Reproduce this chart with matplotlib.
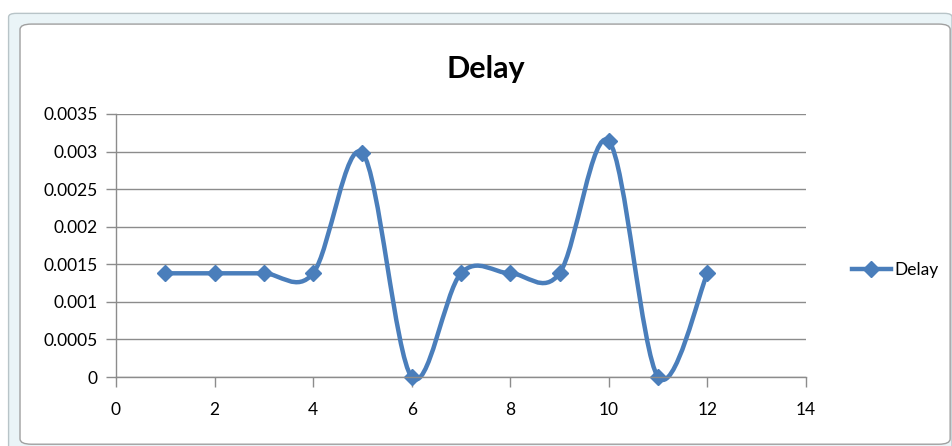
import numpy as np
import matplotlib
matplotlib.use("Agg")
import matplotlib.pyplot as plt
from matplotlib.path import Path
from matplotlib.patches import PathPatch, FancyBboxPatch
from matplotlib.lines import Line2D

x_vals = [1, 2, 3, 4, 5, 6, 7, 8, 9, 10, 11, 12]
delay = [0.00138, 0.00138, 0.00138, 0.00138, 0.00298, 0.0,
         0.00138, 0.00138, 0.00138, 0.00314, 0.0, 0.00138]
x_ticks = [0, 2, 4, 6, 8, 10, 12, 14]
y_ticks = [0, 0.0005, 0.001, 0.0015, 0.002, 0.0025, 0.003, 0.0035]
y_labels = ["0", "0.0005", "0.001", "0.0015", "0.002", "0.0025", "0.003", "0.0035"]

blue = "#4A7EBB"
grid_col = "#8C8C8C"
plt.rcParams["font.family"] = ["Lato", "DejaVu Sans"]


def smooth_path(xs, ys):
    # excel style smoothed line: cubic bezier, catmull-rom control points
    p = np.column_stack([xs, ys]).astype(float)
    n = len(p)
    verts = [p[0]]
    codes = [Path.MOVETO]
    for i in range(n - 1):
        p0 = p[i - 1] if i > 0 else p[i]
        p3 = p[i + 2] if i + 2 < n else p[i + 1]
        c1 = p[i] + (p[i + 1] - p0) / 6
        c2 = p[i + 1] - (p3 - p[i]) / 6
        verts += [c1, c2, p[i + 1]]
        codes += [Path.CURVE4] * 3
    return Path(verts, codes)


fig = plt.figure(figsize=(9.53, 4.46), dpi=100)

# chart frame
fig.patches.append(FancyBboxPatch((0.009, -0.05), 0.99, 1.02, boxstyle="round,pad=0,rounding_size=0.008",
                                  transform=fig.transFigure, facecolor="#EAF4F7", edgecolor="#B8C4C8",
                                  lw=1, zorder=-10))
fig.patches.append(FancyBboxPatch((0.021, 0.004), 0.976, 0.942, boxstyle="round,pad=0,rounding_size=0.012",
                                  transform=fig.transFigure, facecolor="white", edgecolor="#A0A0A0",
                                  lw=1, zorder=-9))

ax = fig.add_axes([0.1217, 0.1547, 0.724, 0.5897])
ax.set_facecolor("none")
ax.set_xlim(0, 14)
ax.set_ylim(0, 0.0035)
ax.set_xticks(x_ticks)
ax.set_yticks(y_ticks)
ax.set_yticklabels(y_labels)
ax.yaxis.grid(True, color=grid_col, lw=1)
ax.set_axisbelow(True)
for s in ["top", "right"]:
    ax.spines[s].set_visible(False)
for s in ["left", "bottom"]:
    ax.spines[s].set_color(grid_col)
    ax.spines[s].set_linewidth(1)
ax.tick_params(direction="out", length=7, width=1, color=grid_col, labelsize=12.5, labelcolor="black")
ax.tick_params(axis="x", pad=11)
ax.tick_params(axis="y", pad=6)

ax.add_patch(PathPatch(smooth_path(x_vals, delay), facecolor="none", edgecolor=blue, lw=3.2,
                       capstyle="round", joinstyle="round", clip_on=False))
ax.plot(x_vals, delay, linestyle="none", marker="D", ms=8.5, color=blue, clip_on=False)

fig.text(0.51, 0.845, "Delay", ha="center", va="center", fontsize=22, fontweight="bold")

handle = Line2D([], [], color=blue, lw=3.2, marker="D", ms=8.5)
fig.legend([handle], ["Delay"], loc="center left", bbox_to_anchor=(0.878, 0.395), frameon=False,
           fontsize=12.5, handlelength=2.2, handletextpad=0.2)

fig.savefig("out.png", dpi=100)
